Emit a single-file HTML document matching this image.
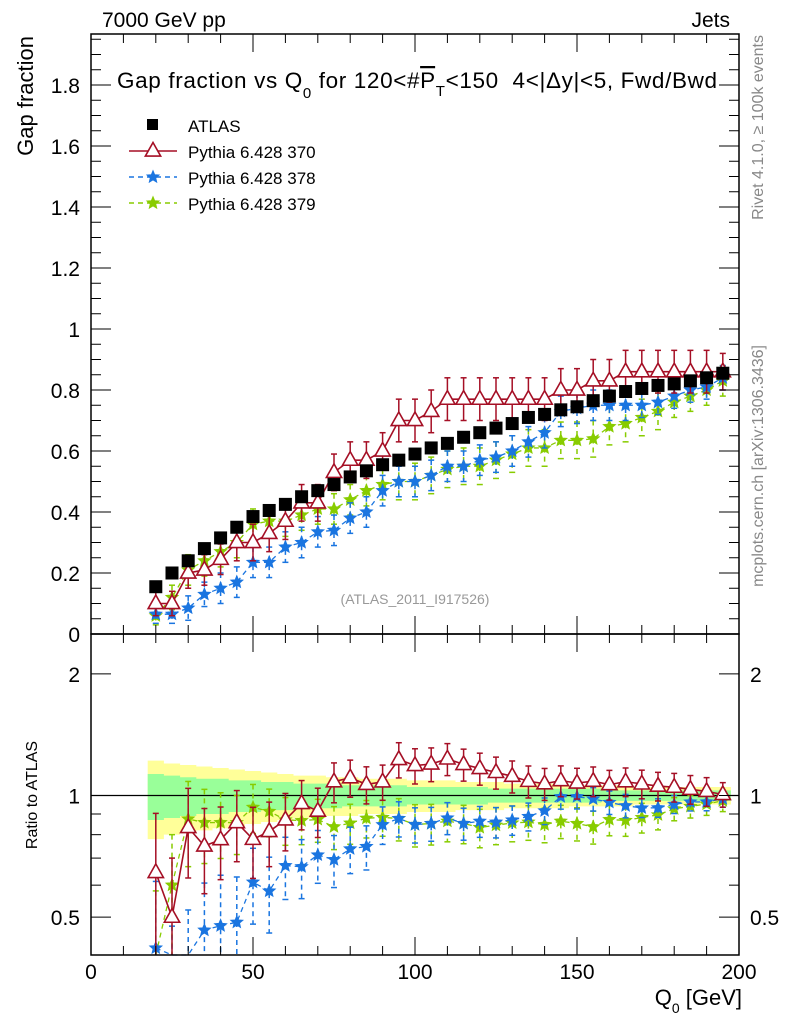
<!DOCTYPE html>
<html><head><meta charset="utf-8">
<style>
html,body{margin:0;padding:0;background:#fff;}
svg{display:block;font-family:"Liberation Sans",sans-serif;}
</style></head>
<body>
<svg id="chart" width="786" height="1024" viewBox="0 0 786 1024" xmlns="http://www.w3.org/2000/svg">
<rect width="786" height="1024" fill="#fff"/>
<g id="bands"></g>
<g id="series"></g>
<g id="frame"></g>
<text x="102" y="27" font-size="21">7000 GeV pp</text>
<text x="730" y="27" font-size="21" text-anchor="end">Jets</text>
<text x="117" y="88" font-size="22.5" textLength="600">Gap fraction vs Q<tspan font-size="15" dy="10">0</tspan><tspan dy="-10"> for 120&lt;#</tspan><tspan text-decoration="overline">P</tspan><tspan font-size="15" dy="8">T</tspan><tspan dy="-8">&lt;150&#160; 4&lt;|Δy|&lt;5, Fwd/Bwd</tspan></text>
<text transform="translate(33,36) rotate(-90)" font-size="22" text-anchor="end">Gap fraction</text>
<text transform="translate(37,795) rotate(-90)" font-size="16" text-anchor="middle">Ratio to ATLAS</text>
<text x="742" y="1005" font-size="22" text-anchor="end">Q<tspan font-size="14" dy="8">0</tspan><tspan dy="-8"> [GeV]</tspan></text>
<text transform="translate(763,35) rotate(-90)" font-size="16" fill="#888" text-anchor="end">Rivet 4.1.0, ≥ 100k events</text>
<text transform="translate(763,345) rotate(-90)" font-size="16" fill="#888" text-anchor="end">mcplots.cern.ch [arXiv:1306.3436]</text>
<text x="415" y="604" font-size="14" fill="#999" text-anchor="middle">(ATLAS_2011_I917526)</text>
<g id="legend"></g>
</svg>
<script>
const xs=[20,25,30,35,40,45,50,55,60,65,70,75,80,85,90,95,100,105,110,115,120,125,130,135,140,145,150,155,160,165,170,175,180,185,190,195];
const atlas=[0.155,0.20,0.24,0.28,0.315,0.35,0.385,0.405,0.425,0.45,0.47,0.49,0.515,0.535,0.555,0.57,0.59,0.61,0.625,0.645,0.66,0.675,0.69,0.71,0.72,0.735,0.745,0.765,0.78,0.795,0.805,0.815,0.82,0.83,0.84,0.855];
const py370=[0.10,0.10,0.20,0.21,0.245,0.30,0.30,0.33,0.37,0.43,0.43,0.53,0.57,0.57,0.60,0.70,0.70,0.73,0.77,0.77,0.77,0.77,0.77,0.77,0.77,0.80,0.80,0.83,0.83,0.86,0.86,0.86,0.86,0.86,0.86,0.86];
const py378=[0.065,0.065,0.085,0.13,0.15,0.17,0.235,0.235,0.285,0.30,0.335,0.34,0.38,0.40,0.47,0.50,0.50,0.52,0.55,0.55,0.57,0.58,0.60,0.63,0.66,0.73,0.74,0.75,0.75,0.75,0.75,0.76,0.78,0.80,0.81,0.84];
const py379=[0.06,0.12,0.21,0.24,0.27,0.30,0.36,0.37,0.37,0.39,0.41,0.41,0.44,0.47,0.49,0.50,0.50,0.52,0.54,0.55,0.55,0.57,0.59,0.61,0.61,0.635,0.635,0.64,0.68,0.69,0.71,0.73,0.76,0.78,0.80,0.83];
const err370=[0.04,0.04,0.05,0.05,0.05,0.06,0.06,0.06,0.06,0.06,0.06,0.06,0.06,0.06,0.06,0.07,0.07,0.07,0.07,0.07,0.07,0.07,0.07,0.07,0.07,0.07,0.07,0.07,0.07,0.07,0.07,0.07,0.07,0.07,0.07,0.06];
const err378=[0.03,0.03,0.04,0.04,0.05,0.05,0.05,0.05,0.05,0.05,0.05,0.05,0.05,0.05,0.05,0.05,0.05,0.05,0.05,0.05,0.05,0.05,0.05,0.05,0.05,0.05,0.05,0.05,0.05,0.05,0.04,0.04,0.04,0.04,0.04,0.04];
const err379=[0.03,0.04,0.05,0.05,0.05,0.05,0.05,0.05,0.05,0.05,0.05,0.05,0.05,0.05,0.05,0.06,0.06,0.06,0.06,0.06,0.06,0.06,0.06,0.06,0.06,0.06,0.06,0.06,0.06,0.06,0.06,0.06,0.05,0.05,0.05,0.05];
const bandOuter=[0.22,0.20,0.19,0.18,0.17,0.16,0.15,0.14,0.13,0.12,0.12,0.11,0.11,0.10,0.10,0.10,0.09,0.09,0.09,0.08,0.08,0.08,0.07,0.07,0.07,0.07,0.06,0.06,0.06,0.06,0.05,0.05,0.05,0.05,0.05,0.05];
const bandInner=[0.13,0.12,0.11,0.10,0.10,0.09,0.09,0.08,0.08,0.07,0.07,0.07,0.06,0.06,0.06,0.06,0.05,0.05,0.05,0.05,0.05,0.04,0.04,0.04,0.04,0.04,0.04,0.04,0.03,0.03,0.03,0.03,0.03,0.03,0.03,0.03];
const topTicks=[0,0.2,0.4,0.6,0.8,1,1.2,1.4,1.6,1.8];
const topTickLabels=["0","0.2","0.4","0.6","0.8","1","1.2","1.4","1.6","1.8"];
const ratioTicks=[0.5,1,2];
const ratioTickLabels=["0.5","1","2"];
const xTicks=[0,50,100,150,200];
const xTickLabels=["0","50","100","150","200"];

const NS="http://www.w3.org/2000/svg";
const L=91,R=739,T=34,M=634,B=955;
const X=v=>L+(v/200)*(R-L);
const Y=v=>M-v*305;
const rMax=2.51,rMin=0.403;
const YR=v=>{const l=Math.log(v);return M+(Math.log(rMax)-l)/(Math.log(rMax)-Math.log(rMin))*(B-M);};
const YRc=v=>Math.min(B,Math.max(M,YR(Math.max(v,0.05))));
function mk(tag,attrs,parent){const e=document.createElementNS(NS,tag);for(const k in attrs)e.setAttribute(k,attrs[k]);parent.appendChild(e);return e;}
const gB=document.getElementById('bands'),gS=document.getElementById('series'),gF=document.getElementById('frame'),gL=document.getElementById('legend');

function bandPath(arr){let up='',dn='';for(let i=0;i<xs.length;i++){const x0=X(xs[i]-2.5),x1=X(xs[i]+2.5);up+=(i?'L':'M')+x0+','+YR(1+arr[i])+'L'+x1+','+YR(1+arr[i]);}
for(let i=xs.length-1;i>=0;i--){const x0=X(xs[i]-2.5),x1=X(xs[i]+2.5);dn+='L'+x1+','+YR(1-arr[i])+'L'+x0+','+YR(1-arr[i]);}return up+dn+'Z';}
let e=mk('path',{d:bandPath(bandOuter),fill:'#ffff99'},gB);


e=mk('path',{d:bandPath(bandInner),fill:'#99ff99'},gB);


e=mk('line',{x1:L,x2:R,y1:YR(1),y2:YR(1),stroke:'#000','stroke-width':1.2},gB);



function star(cx,cy,r){let d='';for(let k=0;k<10;k++){const a=-Math.PI/2+k*Math.PI/5;const rr=k%2?r*0.45:r;d+=(k?'L':'M')+(cx+rr*Math.cos(a)).toFixed(1)+','+(cy+rr*Math.sin(a)).toFixed(1);}return d+'Z';}
function tri(cx,cy,r){return `M${cx},${cy-r}L${cx+r*0.9},${cy+r*0.6}L${cx-r*0.9},${cy+r*0.6}Z`;}

function drawMC(vals,errs,color,dash,kind,name){
  const g=mk('g',{},gS);
  
  
  let d='',dr='';
  xs.forEach((x,i)=>{d+=(i?'L':'M')+X(x)+','+Y(vals[i]);dr+=(i?'L':'M')+X(x)+','+YRc(vals[i]/atlas[i]);});
  const sw=kind==='tri'?1.6:1.3;
  mk('path',{d:d,fill:'none',stroke:color,'stroke-width':sw,'stroke-dasharray':dash},g);
  mk('path',{d:dr,fill:'none',stroke:color,'stroke-width':sw,'stroke-dasharray':dash},g);
  xs.forEach((x,i)=>{
    const cx=X(x);
    const lines=[[Y(vals[i]+errs[i]),Y(Math.max(vals[i]-errs[i],0)),Y(vals[i])],
      [YRc((vals[i]+errs[i])/atlas[i]),YRc((vals[i]-errs[i])/atlas[i]),YRc(vals[i]/atlas[i])]];
    lines.forEach((ln,j)=>{
      const [a,b,c]=ln;
      const cap=j===0?Math.min(M,b):b;
      mk('line',{x1:cx,x2:cx,y1:a,y2:Math.min(cap,j===0?M:B),stroke:color,'stroke-width':1.5,'stroke-dasharray':dash},g);
      mk('line',{x1:cx-3,x2:cx+3,y1:a,y2:a,stroke:color,'stroke-width':1.5},g);
      if(b<(j===0?M:B))mk('line',{x1:cx-3,x2:cx+3,y1:b,y2:b,stroke:color,'stroke-width':1.5},g);
      if(c>=M&&j===0)return; if(j===1&&(c>=B||c<=M))return;
      let m;
      if(kind==='tri')m=mk('path',{d:tri(cx,c,8.5),fill:'#fff',stroke:color,'stroke-width':1.6},g);
      else m=mk('path',{d:star(cx,c,6.5),fill:color,stroke:color,'stroke-width':0.8},g);
      
      
    });
  });
}
drawMC(py379,err379,'#88cc00','5,4','star','pythia-379');
drawMC(py378,err378,'#1a75e0','5,4','star','pythia-378');
drawMC(py370,err370,'#a50f25','','tri','pythia-370');

const gA=mk('g',{},gS);


xs.forEach((x,i)=>{
  const r=mk('rect',{x:X(x)-6.5,y:Y(atlas[i])-6.5,width:13,height:13,fill:'#000'},gA);
  
  
});

function fr(y1,y2,n){const r=mk('rect',{x:L,y:y1,width:R-L,height:y2-y1,fill:'none',stroke:'#000','stroke-width':1.5},gF);}
fr(T,M,'top-panel-frame');fr(M,B,'ratio-panel-frame');
for(let v=0;v<=200;v+=10){const major=v%50===0;const len=major?18:9;
  [[T,1],[M,-1],[M,1],[B,-1]].forEach(([y,s])=>mk('line',{x1:X(v),x2:X(v),y1:y,y2:y+s*len,stroke:'#000','stroke-width':1},gF));}
xTicks.forEach((v,i)=>{const t=mk('text',{x:X(v),y:979,'font-size':21,'text-anchor':'middle'},gF);t.textContent=xTickLabels[i];
  
  });
for(let k=0;k*0.05<=1.96;k++){const v=k*0.05;const major=k%4===0;const len=major?20:10;
  mk('line',{x1:L,x2:L+len,y1:Y(v),y2:Y(v),stroke:'#000','stroke-width':1},gF);
  mk('line',{x1:R,x2:R-len,y1:Y(v),y2:Y(v),stroke:'#000','stroke-width':1},gF);}
topTicks.forEach((v,i)=>{const t=mk('text',{x:80,y:Y(v)+8,'font-size':21,'text-anchor':'end'},gF);t.textContent=topTickLabels[i];
  
  });
[0.5,0.6,0.7,0.8,0.9,1,2].forEach(v=>{const len=(v===0.5||v===1||v===2)?20:10;
  mk('line',{x1:L,x2:L+len,y1:YR(v),y2:YR(v),stroke:'#000','stroke-width':1},gF);
  mk('line',{x1:R,x2:R-len,y1:YR(v),y2:YR(v),stroke:'#000','stroke-width':1},gF);});
ratioTicks.forEach((v,i)=>{[[80,'end'],[750,'start']].forEach(([x,a])=>{const t=mk('text',{x:x,y:YR(v)+8,'font-size':21,'text-anchor':a},gF);t.textContent=ratioTickLabels[i];
  
  });});

const leg=[['ATLAS','#000','','sq'],['Pythia 6.428 370','#a50f25','','tri'],['Pythia 6.428 378','#1a75e0','5,4','star'],['Pythia 6.428 379','#88cc00','5,4','star']];
leg.forEach((l,i)=>{const y=125+i*26;const g=mk('g',{},gL);
  
  
  if(l[3]==='sq')mk('rect',{x:147,y:y-6,width:11,height:11,fill:'#000'},g);
  else{mk('line',{x1:129,x2:177,y1:y,y2:y,stroke:l[1],'stroke-width':1.4,'stroke-dasharray':l[2]},g);
    if(l[3]==='tri')mk('path',{d:tri(153,y,8.5),fill:'#fff',stroke:l[1],'stroke-width':1.6},g);
    else mk('path',{d:star(153,y,6.5),fill:l[1],stroke:l[1],'stroke-width':0.8},g);}
  const t=mk('text',{x:188,y:y+7,'font-size':17},g);t.textContent=l[0];});
</script>
</body></html>
